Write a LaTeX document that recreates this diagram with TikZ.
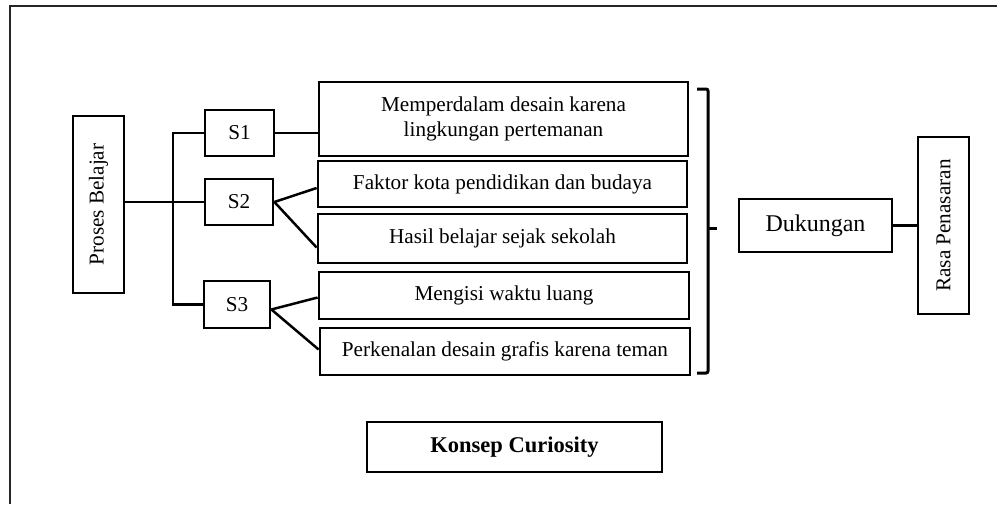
\documentclass[tikz,border=0pt]{standalone}
\usepackage{fontspec}
\setmainfont{Liberation Serif}
\begin{document}
\begin{tikzpicture}[x=1pt,y=-1pt,
  box/.style={draw,line width=2.8pt,inner sep=0pt,align=center,
    font=\fontsize{21.2}{25}\selectfont},
  link/.style={line width=2.5pt},
  frameline/.style={line width=2.6pt,draw=black!85}]
\useasboundingbox (0,0) rectangle (997,504);
% partial outer frame
\draw[frameline] (10,504) -- (10,6) -- (997,6);

% left column
\node[box,minimum width=51pt,minimum height=177pt] (pb) at (98.5,204.5)
  {\rotatebox{90}{Proses Belajar}};
\node[box,minimum width=69pt,minimum height=46pt] (s1) at (239.5,133) {S1};
\node[box,minimum width=68pt,minimum height=46pt] (s2) at (239,202) {S2};
\node[box,minimum width=66pt,minimum height=47pt] (s3) at (237,304.5) {S3};

% middle column
\node[box,minimum width=369pt,minimum height=74pt] (b1) at (503.5,119)
  {Memperdalam desain karena\\lingkungan pertemanan};
\node[box,minimum width=369pt,minimum height=46pt] (b2) at (502.5,184) {Faktor kota pendidikan dan budaya};
\node[box,minimum width=369pt,minimum height=49pt] (b3) at (502.5,238.5) {Hasil belajar sejak sekolah};
\node[box,minimum width=370pt,minimum height=47pt] (b4) at (504,295.5) {Mengisi waktu luang};
\node[box,minimum width=370pt,minimum height=47pt] (b5) at (505,351.5) {Perkenalan desain grafis karena teman};

% right column
\node[box,minimum width=153pt,minimum height=53pt,font=\fontsize{24}{28}\selectfont] (dk) at (815.5,225.5) {Dukungan};
\node[box,minimum width=51pt,minimum height=177pt] (rp) at (943.5,225.5)
  {\rotatebox{90}{Rasa Penasaran}};

% title
\node[box,minimum width=295pt,minimum height=50pt,font=\bfseries\fontsize{22.5}{26}\selectfont] (kc) at (514.5,447) {Konsep Curiosity};

% connectors
\coordinate (trunk) at (173,202);
\draw[link] (pb.east |- trunk) -- (s2.west);
\draw[link] (s1.west) -- (173,133) -- (173,304.5) -- (s3.west);
\draw[link] (s1.east) -- (b1.west |- s1.east);
\draw[link] (s2.east) -- ([yshift=-4pt]b2.west);
\draw[link] (s2.east) -- ([yshift=-9pt]b3.west);
\draw[link] ([yshift=-5pt]s3.east) -- ([yshift=-2pt]b4.west);
\draw[link] ([yshift=-5pt]s3.east) -- ([yshift=2pt]b5.west);
\draw[link] (dk.east) -- (rp.west |- dk.east);

% brace around the five reasons
\coordinate (brtop) at (697,89);
\coordinate (brbot) at (697,373);
\coordinate (brmid) at (717,228.5);
\draw[line width=3pt,rounded corners=2pt] (brtop) -- (708,89) -- (708,373) -- (brbot);
\draw[line width=3.6pt] (708,228.5) -- (brmid);
\end{tikzpicture}
\end{document}
